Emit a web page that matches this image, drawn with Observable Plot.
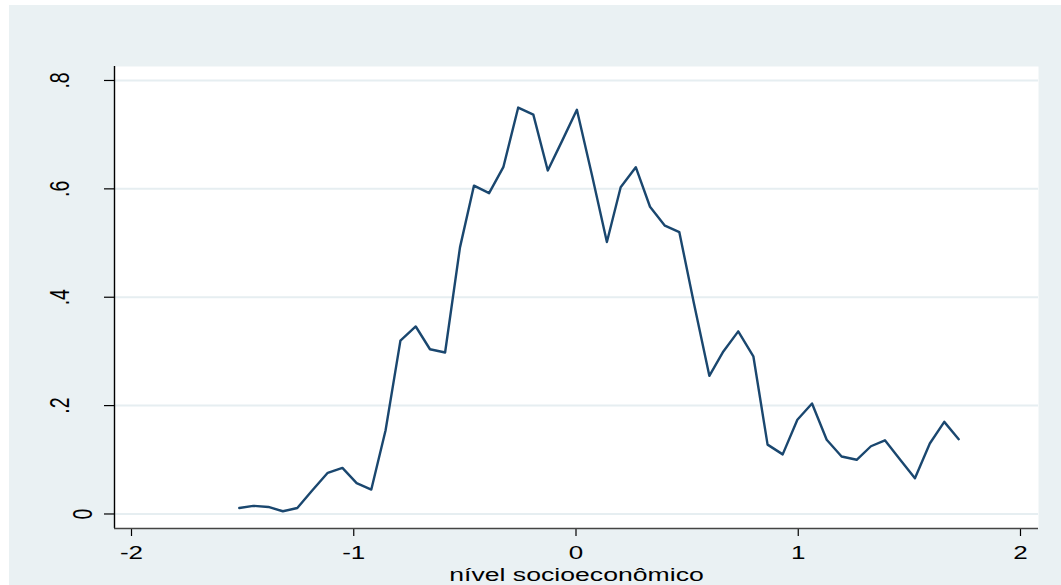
<!DOCTYPE html>
<html>
<head>
<meta charset="utf-8">
<script src="https://cdn.jsdelivr.net/npm/d3@7"></script>
<script src="https://cdn.jsdelivr.net/npm/@observablehq/plot@0.6"></script>
<style>
  html, body { margin: 0; padding: 0; background: #fff; overflow: hidden; }
  #wrap { position: relative; width: 1061px; height: 585px; }
  #bg { position: absolute; left: 9px; top: 5px; right: 0; bottom: 0; background: #EAF1F3; }
  #wrap svg { position: absolute; left: 0; top: 0; }
</style>
</head>
<body>
<div id="wrap"><div id="bg"></div></div>
<script>
// Socioeconomic level (x) and estimated density (y)
const nivel = [
  -1.515, -1.452, -1.384, -1.319, -1.254, -1.188, -1.117, -1.051, -0.987, -0.921,
  -0.857, -0.790, -0.721, -0.657, -0.589, -0.522, -0.459, -0.391, -0.327, -0.260,
  -0.192, -0.127, -0.062, 0.004, 0.072, 0.139, 0.201, 0.269, 0.333, 0.400,
  0.465, 0.531, 0.600, 0.663, 0.730, 0.798, 0.862, 0.930, 0.996, 1.062,
  1.128, 1.195, 1.263, 1.327, 1.390, 1.457, 1.525, 1.592, 1.657, 1.722
];
const densidade = [
  0.011, 0.015, 0.013, 0.005, 0.011, 0.043, 0.076, 0.085, 0.057, 0.045,
  0.154, 0.320, 0.346, 0.304, 0.298, 0.492, 0.606, 0.592, 0.640, 0.750,
  0.737, 0.634, 0.689, 0.746, 0.625, 0.502, 0.603, 0.640, 0.567, 0.532,
  0.520, 0.388, 0.255, 0.300, 0.337, 0.291, 0.128, 0.110, 0.174, 0.204,
  0.137, 0.106, 0.100, 0.125, 0.136, 0.101, 0.066, 0.130, 0.170, 0.138
];
const xTicks = [-2, -1, 0, 1, 2];
const xTickLabels = ["-2", "-1", "0", "1", "2"];
const yTicks = [0, 0.2, 0.4, 0.6, 0.8];
const yTickLabels = ["0", ".2", ".4", ".6", ".8"];
const xTitle = "nível socioeconômico";

const points = nivel.map((x, i) => ({x, y: densidade[i]}));
const xRows = xTicks.map((v, i) => ({v, label: xTickLabels[i]}));
const yRows = yTicks.map((v, i) => ({v, label: yTickLabels[i]}));

const xDomain = [-2.0765, 2.081];
const yDomain = [-0.0268, 0.8258];
const ink = "#000";

const chart = Plot.plot({
  width: 1061,
  height: 585,
  marginLeft: 114,
  marginRight: 23,
  marginTop: 66,
  marginBottom: 57,
  style: {background: "transparent", fontFamily: "'Liberation Sans', Arial, sans-serif", fontSize: "19.5px", color: ink},
  x: {domain: xDomain, axis: null},
  y: {domain: yDomain, axis: null},
  marks: [
    Plot.frame({fill: "white", stroke: null}),
    Plot.gridY(yTicks, {stroke: "#E6EEF1", strokeOpacity: 1, strokeWidth: 2}),
    Plot.axisY(yTicks, {anchor: "left", tickSize: 10, tickFormat: () => "", label: null, stroke: ink, strokeWidth: 1.2}),
    Plot.axisX(xTicks, {anchor: "bottom", tickSize: 8, tickFormat: () => "", label: null, stroke: ink, strokeWidth: 1.2}),
    Plot.ruleX([xDomain[0]], {stroke: ink, strokeWidth: 1.4}),
    Plot.ruleY([yDomain[0]], {stroke: "#444", strokeWidth: 1.5}),
    Plot.line(points, {x: "x", y: "y", stroke: "#1A476F", strokeWidth: 2.4}),
    // rotated y tick labels
    Plot.text(yRows.filter(d => d.v !== 0), {y: "v", text: "label", frameAnchor: "left", dx: -54.5, rotate: -90, textAnchor: "middle", lineAnchor: "middle", fill: ink, className: "wide-y"}),
    Plot.text(yRows.filter(d => d.v === 0), {y: "v", text: "label", frameAnchor: "left", dx: -31, rotate: -90, textAnchor: "middle", lineAnchor: "middle", fill: ink, className: "wide-y"}),
    // x tick labels and title
    Plot.text(xRows, {x: "v", text: "label", frameAnchor: "bottom", dy: 24.9, fontSize: 19, textAnchor: "middle", lineAnchor: "middle", fill: ink, className: "wide-x"}),
    Plot.text([xTitle], {text: d => d, frameAnchor: "bottom", dy: 46.9, fontSize: 18.5, textAnchor: "middle", lineAnchor: "middle", fill: ink, className: "wide-title"})
  ]
});

// widen the lettering horizontally, as in the exported graph
const stretch = {"wide-y": 1.4, "wide-x": 1.37, "wide-title": 1.44};
chart.querySelectorAll("text").forEach(t => {
  const tr = t.getAttribute("transform");
  if (!tr || !tr.includes("translate(")) return;
  const g = t.closest("g");
  const cls = g ? Object.keys(stretch).find(c => g.classList.contains(c)) : null;
  const k = cls ? stretch[cls] : 1.37;
  t.setAttribute("transform", tr.replace(/translate\([^)]*\)/, m => `${m} scale(${k},1)`));
});

document.getElementById("wrap").appendChild(chart);
</script>
</body>
</html>
